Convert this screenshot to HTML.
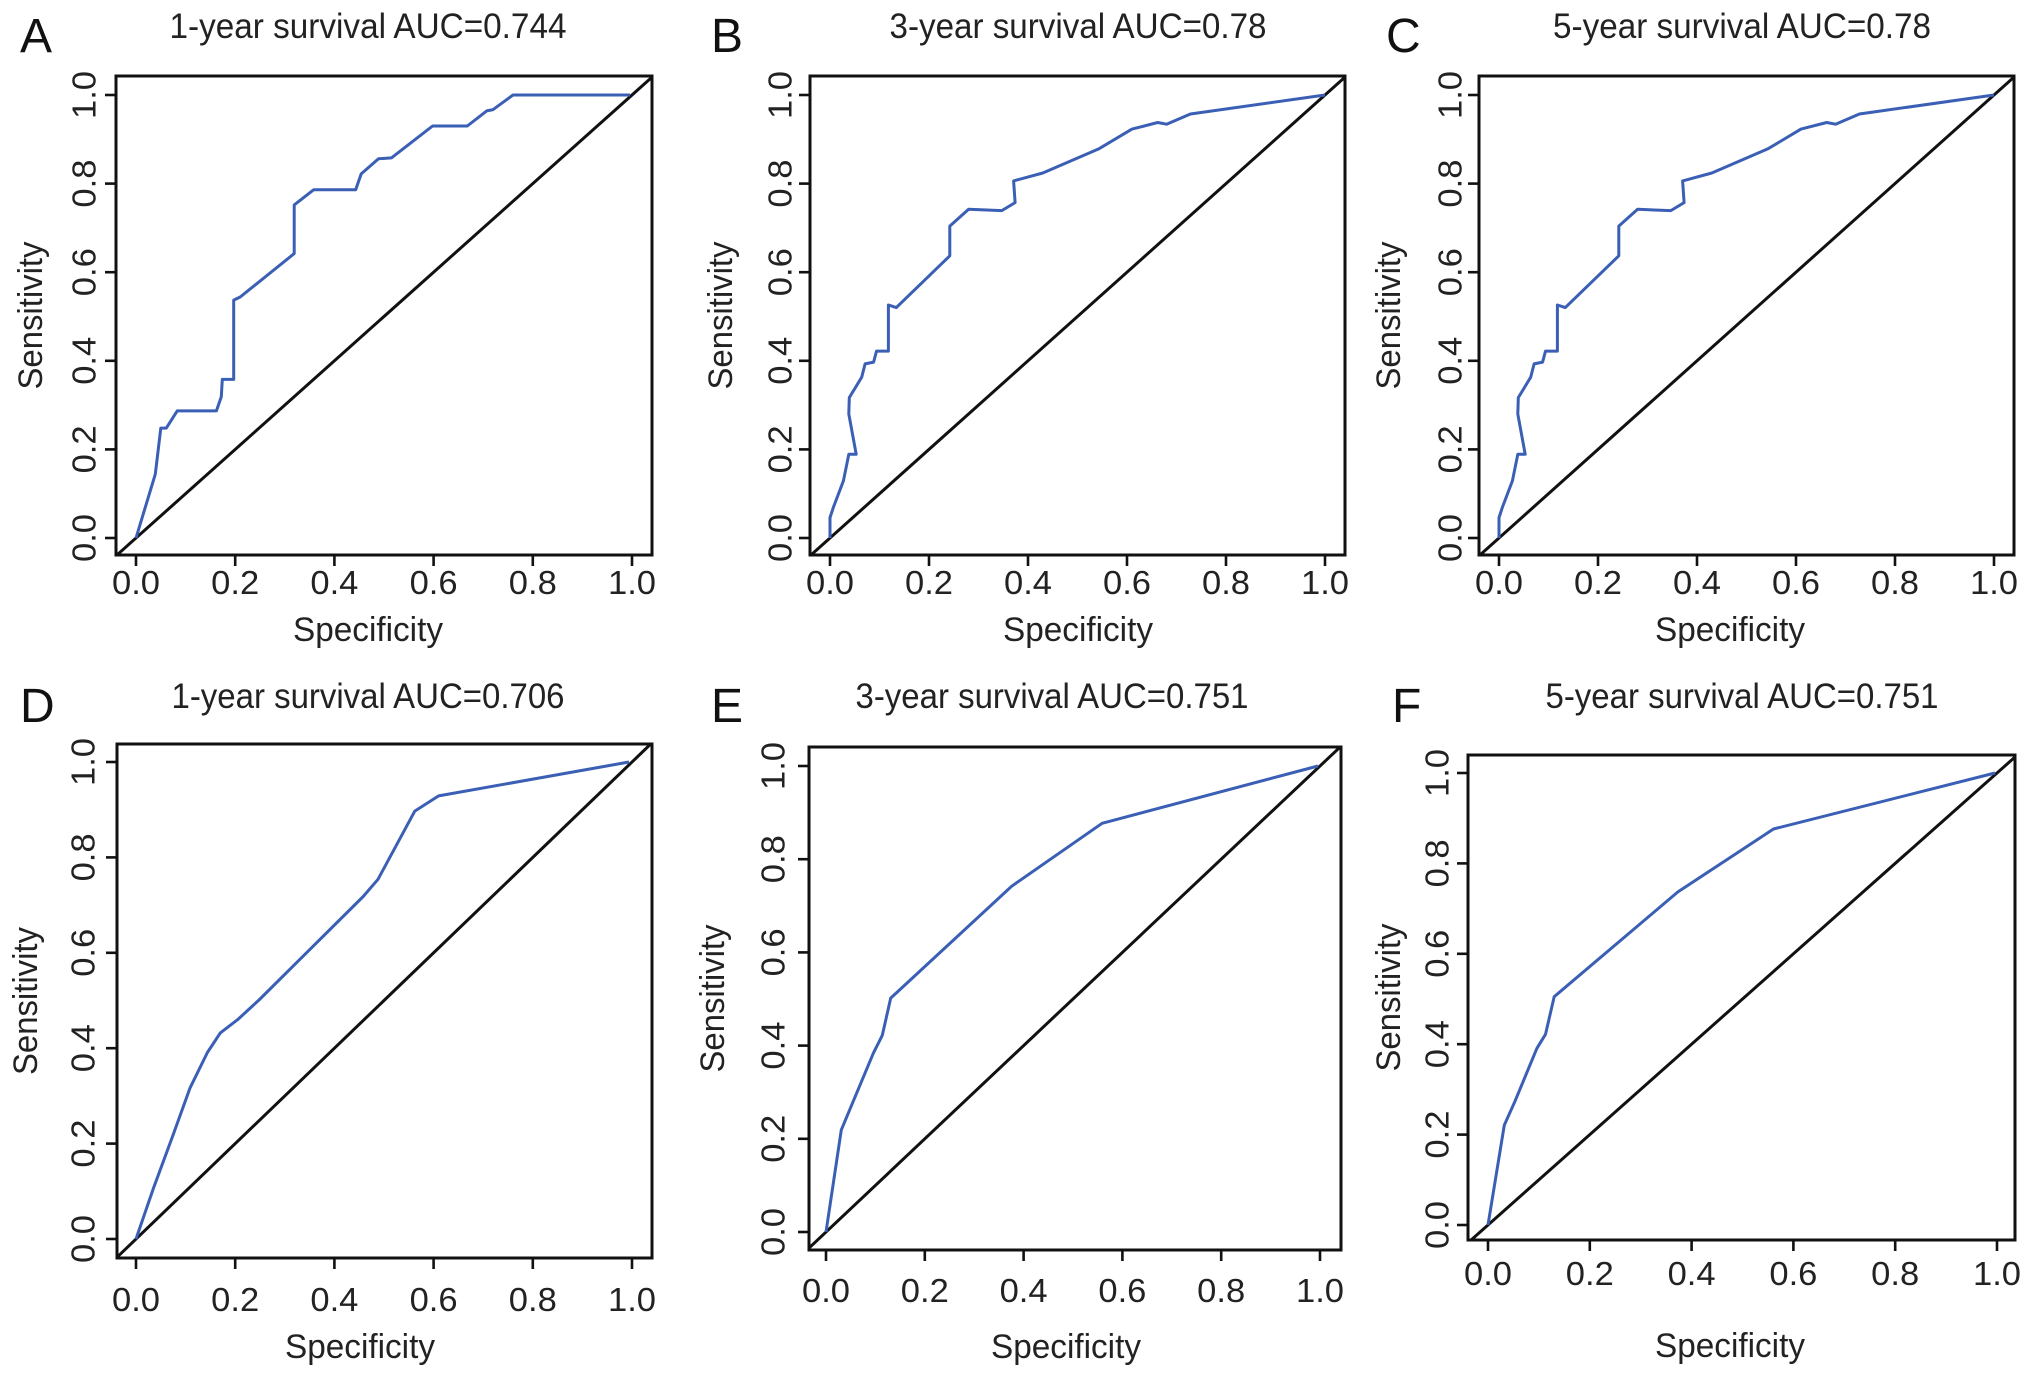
<!DOCTYPE html>
<html><head><meta charset="utf-8"><style>
html,body{margin:0;padding:0;background:#fff;}
svg{display:block;font-family:"Liberation Sans",Arial,sans-serif;}
</style></head><body>
<svg id="fig" width="2032" height="1379" viewBox="0 0 2032 1379" xmlns="http://www.w3.org/2000/svg"></svg>
<script>
const xTicks = [0, 0.2, 0.4, 0.6, 0.8, 1.0];
const yTicks = [0, 0.2, 0.4, 0.6, 0.8, 1.0];
const tickLabels = ["0.0","0.2","0.4","0.6","0.8","1.0"];
const titles = ["1-year survival AUC=0.744","3-year survival AUC=0.78","5-year survival AUC=0.78","1-year survival AUC=0.706","3-year survival AUC=0.751","5-year survival AUC=0.751"];
const panelLetters = ["A","B","C","D","E","F"];

const specA = [0,0.039,0.05,0.061,0.083,0.162,0.172,0.174,0.197,0.197,0.21,0.319,0.319,0.358,0.443,0.454,0.489,0.515,0.598,0.668,0.707,0.72,0.76,0.996];
const sensA = [0,0.144,0.248,0.248,0.287,0.287,0.319,0.358,0.358,0.537,0.544,0.642,0.752,0.786,0.786,0.822,0.856,0.858,0.93,0.93,0.964,0.967,1,1];
const specB = [0,0,0.007,0.027,0.038,0.053,0.038,0.039,0.064,0.071,0.088,0.094,0.118,0.118,0.134,0.242,0.242,0.28,0.347,0.374,0.371,0.43,0.544,0.61,0.662,0.68,0.728,1];
const sensB = [0,0.046,0.07,0.129,0.189,0.189,0.28,0.317,0.363,0.393,0.397,0.422,0.422,0.526,0.52,0.637,0.704,0.742,0.739,0.757,0.806,0.824,0.879,0.923,0.938,0.934,0.957,1];
const specC = [0,0,0.007,0.027,0.038,0.053,0.038,0.039,0.064,0.071,0.088,0.094,0.118,0.118,0.134,0.242,0.242,0.28,0.347,0.374,0.371,0.43,0.544,0.61,0.662,0.68,0.728,1];
const sensC = [0,0.046,0.07,0.129,0.189,0.189,0.28,0.317,0.363,0.393,0.397,0.422,0.422,0.526,0.52,0.637,0.704,0.742,0.739,0.757,0.806,0.824,0.879,0.923,0.938,0.934,0.957,1];
const specD = [0,0.035,0.074,0.109,0.144,0.17,0.205,0.248,0.336,0.458,0.488,0.562,0.61,0.994];
const sensD = [0,0.106,0.216,0.317,0.391,0.432,0.46,0.501,0.592,0.718,0.754,0.897,0.929,1];
const specE = [0,0.031,0.044,0.096,0.114,0.131,0.376,0.559,0.996];
const sensE = [0,0.219,0.252,0.384,0.422,0.502,0.742,0.877,1];
const specF = [0,0.032,0.053,0.096,0.113,0.13,0.373,0.561,0.996];
const sensF = [0,0.221,0.274,0.391,0.422,0.505,0.737,0.876,1];

const seriesX = [specA,specB,specC,specD,specE,specF];
const seriesY = [sensA,sensB,sensC,sensD,sensE,sensF];

// layout (pixels)
const layouts = [
 {bl:116,br:652,bt:76,bb:555,x0:136,x1:632,y0:538,y1:95,tcx:368,tby:38,tw:397,lx:20,lby:52,ytx:84,slx:31,tlb:594,slb:641,scx:368},
 {bl:810,br:1345,bt:76,bb:555,x0:830,x1:1325,y0:538,y1:95,tcx:1078,tby:38,tw:377,lx:711,lby:52,ytx:780,slx:721,tlb:594,slb:641,scx:1078},
 {bl:1479,br:2014,bt:76,bb:555,x0:1499,x1:1994,y0:538,y1:95,tcx:1742,tby:38,tw:378,lx:1386,lby:52,ytx:1450,slx:1389,tlb:594,slb:641,scx:1730},
 {bl:117,br:652,bt:744,bb:1258,x0:136,x1:632,y0:1239,y1:762,tcx:368,tby:708,tw:393,lx:20,lby:722,ytx:83,slx:26,tlb:1311,slb:1358,scx:360},
 {bl:809,br:1341,bt:747,bb:1250,x0:826,x1:1320,y0:1232,y1:766,tcx:1052,tby:708,tw:393,lx:711,lby:722,ytx:773,slx:713,tlb:1302,slb:1358,scx:1066},
 {bl:1468,br:2015,bt:755,bb:1240,x0:1488,x1:1997,y0:1225,y1:773,tcx:1742,tby:708,tw:393,lx:1392,lby:722,ytx:1437,slx:1389,tlb:1285,slb:1357,scx:1730}
];

const NS = "http://www.w3.org/2000/svg";
const svg = document.getElementById('fig');
function mk(tag, attrs, parent){
  const e = document.createElementNS(NS, tag);
  for (const k in attrs) e.setAttribute(k, attrs[k]);
  parent.appendChild(e);
  return e;
}

layouts.forEach((L, i) => {
  const g = mk('g', {}, svg);
  
  
  const sx = v => L.x0 + v * (L.x1 - L.x0);
  const sy = v => L.y0 - v * (L.y0 - L.y1);

  const letter = mk('text', {x:L.lx, y:L.lby, 'font-size':48, fill:'#111'}, g);
  letter.textContent = panelLetters[i];
  
  

  const t = mk('text', {x:L.tcx, y:L.tby, 'font-size':35, 'text-anchor':'middle', fill:'#222', textLength:L.tw, lengthAdjust:'spacingAndGlyphs'}, g);
  t.textContent = titles[i];
  
  

  const cid = 'clip' + i;
  const cp = mk('clipPath', {id:cid}, g);
  mk('rect', {x:L.bl, y:L.bt, width:L.br-L.bl, height:L.bb-L.bt}, cp);

  const vmin = (L.bl - L.x0)/(L.x1-L.x0) - 0.05, vmax = (L.br - L.x0)/(L.x1-L.x0) + 0.05;
  const diag = mk('line', {x1:sx(vmin), y1:sy(vmin), x2:sx(vmax), y2:sy(vmax), stroke:'#111', 'stroke-width':3, 'clip-path':'url(#'+cid+')'}, g);
  
  

  const xs = seriesX[i], ys = seriesY[i];
  const pts = xs.map((v, j) => sx(v).toFixed(1) + ',' + sy(ys[j]).toFixed(1)).join(' ');
  const curve = mk('polyline', {points:pts, fill:'none', stroke:'#3a5fb5', 'stroke-width':3, 'stroke-linejoin':'round'}, g);
  
  

  const box = mk('rect', {x:L.bl, y:L.bt, width:L.br-L.bl, height:L.bb-L.bt, fill:'none', stroke:'#111', 'stroke-width':3}, g);
  
  

  xTicks.forEach((v, j) => {
    const x = sx(v);
    const tk = mk('line', {x1:x, y1:L.bb, x2:x, y2:L.bb+11, stroke:'#111', 'stroke-width':2.6}, g);
    
    
    const tl = mk('text', {x:x, y:L.tlb, 'font-size':33, 'text-anchor':'middle', fill:'#222', textLength:48, lengthAdjust:'spacingAndGlyphs'}, g);
    tl.textContent = tickLabels[j];
    
    
  });
  yTicks.forEach((v, j) => {
    const y = sy(v);
    const tk = mk('line', {x1:L.bl-11, y1:y, x2:L.bl, y2:y, stroke:'#111', 'stroke-width':2.6}, g);
    
    
    const tl = mk('text', {x:L.ytx, y:y, 'font-size':33, 'text-anchor':'middle', 'dominant-baseline':'central', fill:'#222', textLength:48, lengthAdjust:'spacingAndGlyphs', transform:'rotate(-90 '+L.ytx+' '+y+')'}, g);
    tl.textContent = tickLabels[j];
    
    
  });

  const xl = mk('text', {x:L.scx, y:L.slb, 'font-size':34, 'text-anchor':'middle', fill:'#222', textLength:150, lengthAdjust:'spacingAndGlyphs'}, g);
  xl.textContent = 'Specificity';
  
  

  const cy = (L.bt+L.bb)/2;
  const yl = mk('text', {x:L.slx, y:cy, 'font-size':34, 'text-anchor':'middle', 'dominant-baseline':'central', fill:'#222', textLength:148, lengthAdjust:'spacingAndGlyphs', transform:'rotate(-90 '+L.slx+' '+cy+')'}, g);
  yl.textContent = 'Sensitivity';
  
  
});
</script>
</body></html>
